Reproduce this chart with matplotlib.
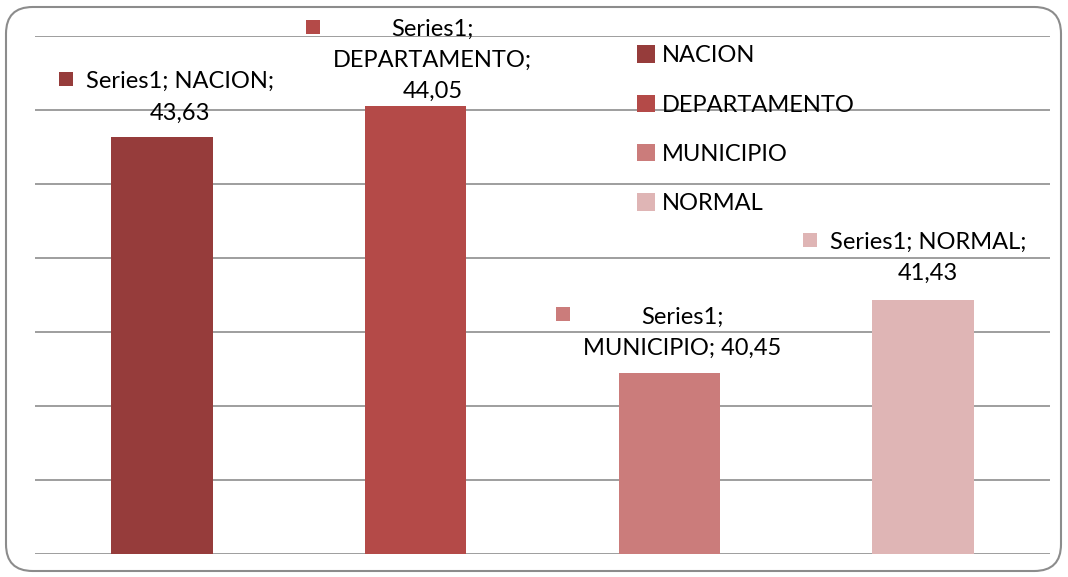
import matplotlib.pyplot as plt
from matplotlib.patches import Patch, FancyBboxPatch, Rectangle

# data
categories = ['NACION', 'DEPARTAMENTO', 'MUNICIPIO', 'NORMAL']
values = [43.63, 44.05, 40.45, 41.43]
value_labels = ['43,63', '44,05', '40,45', '41,43']
series_name = 'Series1'
colors = ['#963C3B', '#B44A48', '#CB7C7B', '#DFB5B5']

# label text laid out like the Excel data labels
label_texts = [
    'Series1; NACION;\n43,63',
    'Series1;\nDEPARTAMENTO;\n44,05',
    'Series1;\nMUNICIPIO; 40,45',
    'Series1; NORMAL;\n41,43',
]
label_dx_px = [18, 17, 13, 5]
label_gap_px = [14, 4, 14, 16]

W, H = 1068, 577
plt.rcParams['font.family'] = ['Lato', 'DejaVu Sans']
fs = 17

fig = plt.figure(figsize=(W / 100, H / 100), dpi=100)
ax = fig.add_axes([35 / W, (H - 554) / H, (1050 - 35) / W, (554 - 36) / H])

x = list(range(len(categories)))
ax.bar(x, [v - 38 for v in values], bottom=38, width=0.4, color=colors, zorder=3)
ax.set_xlim(-0.5, 3.5)
ax.set_ylim(38, 45)
ax.set_yticks(range(38, 46))
ax.set_xticks([])
ax.yaxis.grid(True, color='#969696', linewidth=1.3, zorder=0)
ax.tick_params(left=False, labelleft=False)
for s in ax.spines.values():
    s.set_visible(False)

# data labels with small colour key on the left
fig.canvas.draw()
r = fig.canvas.get_renderer()
for i, (t, v) in enumerate(zip(label_texts, values)):
    txt = ax.annotate(t, xy=(i, v),
                      xytext=(label_dx_px[i] * 0.72, label_gap_px[i] * 0.72),
                      textcoords='offset points', ha='center', va='bottom',
                      multialignment='center', fontsize=fs,
                      linespacing=1.6, zorder=5)
    bb = txt.get_window_extent(r)
    sq = 14
    x0 = bb.x0 - 27
    y0 = bb.y1 - 15
    fig.patches.append(Rectangle((x0 / W, y0 / H), sq / W, sq / H,
                                 transform=fig.transFigure,
                                 facecolor=colors[i], edgecolor='none'))

# legend
handles = [Patch(facecolor=c, edgecolor='none') for c in colors]
fig.legend(handles, categories, loc='upper left',
           bbox_to_anchor=(616 / W, (H - 24) / H), frameon=False,
           fontsize=fs, handlelength=0.75, handleheight=0.75,
           handletextpad=0.3, labelspacing=1.2)

# rounded outer frame
fig.patches.append(FancyBboxPatch((6 / W, 6 / H), (W - 13) / W, (H - 13) / H,
                                  boxstyle='round,pad=0,rounding_size=0.025',
                                  transform=fig.transFigure, fill=False,
                                  edgecolor='#8C8C8C', linewidth=1.5,
                                  mutation_aspect=W / H))

fig.savefig('out.png', dpi=100)
